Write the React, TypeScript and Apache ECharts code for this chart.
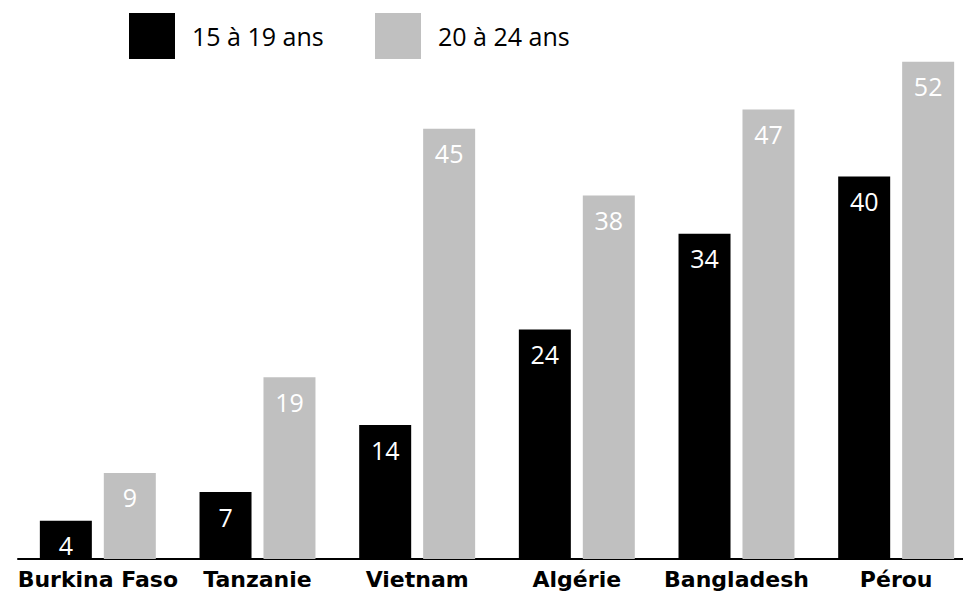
import React, { useEffect, useRef } from "react";
import * as echarts from "echarts";

const categories = ["Burkina Faso", "Tanzanie", "Vietnam", "Algérie", "Bangladesh", "Pérou"];
const seriesNames = ["15 à 19 ans", "20 à 24 ans"];
const young = [4, 7, 14, 24, 34, 40];
const older = [9, 19, 45, 38, 47, 52];

const FONT = "'Open Sans', 'DejaVu Sans', sans-serif";
const BOLD_FONT = "'DejaVu Sans', 'Open Sans', sans-serif";

export default function App() {
  const ref = useRef<HTMLDivElement>(null);
  useEffect(() => {
    if (!ref.current) return;
    const chart = echarts.init(ref.current, undefined, { renderer: "svg" });
    const legendCommon = {
      top: 8,
      itemWidth: 46,
      itemHeight: 46,
      icon: "rect",
      selectedMode: false,
      textStyle: { fontFamily: FONT, fontSize: 25, color: "#000", padding: [0, 0, 0, 12] },
    };
    const valueLabel = {
      show: true,
      position: "insideTop",
      distance: 12,
      color: "#fff",
      fontFamily: FONT,
      fontSize: 25,
    };
    chart.setOption({
      animation: false,
      backgroundColor: "#fff",
      legend: [
        { ...legendCommon, left: 124, data: [seriesNames[0]] },
        { ...legendCommon, left: 370, data: [seriesNames[1]] },
      ],
      grid: { left: 18, top: 33, width: 958, height: 526, containLabel: false },
      xAxis: {
        type: "category",
        data: categories,
        axisLine: { show: true, lineStyle: { color: "#000", width: 2 } },
        axisTick: { show: false },
        axisLabel: {
          fontFamily: BOLD_FONT,
          fontWeight: "bold",
          fontSize: 22,
          color: "#000",
          margin: 9,
          interval: 0,
        },
      },
      yAxis: {
        type: "value",
        min: 0,
        max: 55,
        show: false,
        splitLine: { show: false },
      },
      series: [
        {
          name: seriesNames[0],
          type: "bar",
          data: young,
          barWidth: 52,
          barGap: "23%",
          itemStyle: { color: "#000" },
          label: valueLabel,
        },
        {
          name: seriesNames[1],
          type: "bar",
          data: older,
          barWidth: 52,
          itemStyle: { color: "#c0c0c0" },
          label: valueLabel,
        },
      ],
    });
    return () => chart.dispose();
  }, []);
  return (
    <div
      style={{
        position: "fixed",
        left: 0,
        top: 0,
        width: 963,
        height: 593,
        overflow: "hidden",
        background: "#fff",
      }}
    >
      <div ref={ref} style={{ width: 1000, height: 593 }} />
    </div>
  );
}
